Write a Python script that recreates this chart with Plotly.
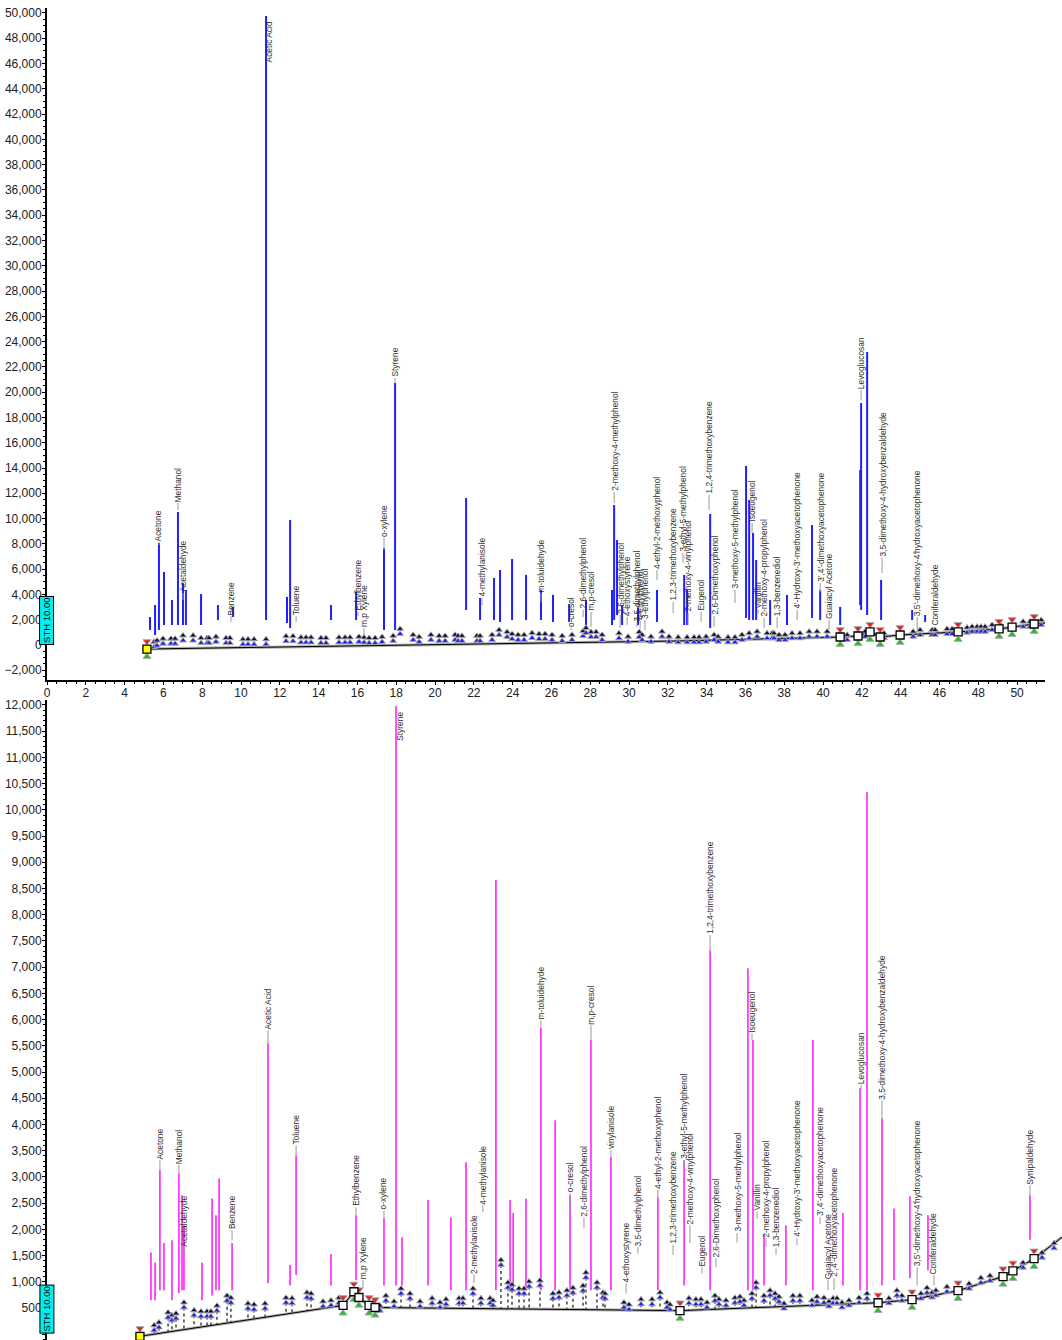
import numpy as np
import plotly.graph_objects as go

# ================= TOP PANEL (blue chromatogram) =================
top_peak_rt = [5.31, 5.57, 5.77, 6.03, 6.44, 6.75, 7.01, 7.16, 7.94, 8.81, 9.59, 11.29, 12.37, 12.53,
               14.64, 15.93, 17.37, 17.94, 21.60, 22.32, 23.04, 23.35, 23.97, 24.69, 25.46, 26.08,
               26.91, 27.78, 29.12, 29.23, 29.38, 29.64, 30.46, 31.44, 32.84, 32.99, 34.18, 36.03,
               36.19, 36.39, 36.55, 37.27, 38.14, 39.43, 39.85, 40.88, 41.91, 41.96, 42.27, 42.99,
               44.59, 45.26]
top_peak_apex = [2215, 3160, 8070, 5770, 3560, 10520, 4900, 4350, 4030, 3160, 3010, 49750, 3800, 9890,
                 3160, 4190, 7670, 20720, 11630, 3720, 5300, 5930, 6800, 5540, 4350, 3960,
                 3240, 3560, 4350, 11070, 8300, 3160, 2930, 4350, 5540, 4350, 10360, 14160,
                 11470, 8860, 6720, 3560, 3960, 9490, 4350, 3010, 13840, 19140, 23180, 5140,
                 2770, 2370]
top_peak_low = [1190, 790, 1190, 1580, 1580, 1580, 1580, 1580, 1580, 1980, 2210, 1980, 1740, 1340,
                1980, 1980, 1190, 1190, 2770, 1980, 1980, 1820, 1980, 1980, 1980, 1820,
                1820, 1580, 1580, 1980, 2370, 1580, 1580, 1820, 1580, 1580, 1340, 2140,
                1980, 1980, 1980, 1580, 1580, 2140, 1980, 1580, 3160, 2770, 2370, 1980,
                1980, 1820]

top_label_text = ["Acetone", "Methanol", "Acetaldehyde", "Benzene", "Acetic Acid", "Toluene",
                  "Ethylbenzene", "m,p Xylene", "o-xylene", "Styrene", "4-methylanisole",
                  "m-toluidehyde", "o-cresol", "2,6-dimethylphenol", "m,p-cresol",
                  "2-methoxy-4-methylphenol", "2,5-dimethylphenol", "4-ethoxystyrene",
                  "3,5-dimethylphenol", "4-ethylphenol", "3-ethylphenol", "4-ethyl-2-methoxyphenol",
                  "1,2,3-trimethoxybenzene", "3-ethyl-5-methylphenol", "2-methoxy-4-vinylphenol",
                  "Eugenol", "1,2,4-trimethoxybenzene", "2,6-Dimethoxyphenol",
                  "3-methoxy-5-methylphenol", "Isoeugenol", "Vanillin", "2-methoxy-4-propylphenol",
                  "1,3-benzenediol", "4'-Hydroxy-3'-methoxyacetophenone",
                  "3',4'-dimethoxyacetophenone", "Guaiacyl Acetone", "Levoglucosan",
                  "3,5-dimethoxy-4-hydroxybenzaldehyde", "3,5'-dimethoxy-4'hydroxyacetophenone",
                  "Coniferaldehyde"]
top_label_rt = [5.77, 6.75, 7.01, 9.48, 11.49, 12.84, 16.03, 16.34, 17.37, 17.94, 22.42,
                25.46, 27.01, 27.63, 28.04, 29.23, 29.54, 29.90, 30.41, 30.57, 30.82, 31.44,
                32.27, 32.78, 33.04, 33.71, 34.12, 34.38, 35.46, 36.34, 36.65, 36.96,
                37.63, 38.66, 39.85, 40.31, 41.96, 43.04, 44.85, 45.72]
top_label_y = [8150, 11230, 4110, 2290, 46040, 2290, 2610, 1340, 8460, 21120, 3720,
               4110, 1340, 2770, 2610, 12100, 2370, 2210, 1740, 1900, 1980, 5930,
               3400, 7280, 2530, 2610, 11860, 2290, 4350, 9650, 2770, 2140,
               2210, 2770, 4900, 1980, 20170, 6880, 2210, 1420]
top_leader_end = [7910, 10680, 3560, 1820, 46040, 1820, 2290, 790, 7510, 20720, 3160,
                  3400, 1190, 2210, 1420, 11230, 1340, 1580, 1420, 1300, 1190, 5140,
                  2530, 6490, 1580, 1820, 10680, 1420, 3320, 8860, 2500, 1340,
                  1340, 1980, 4190, 1190, 19380, 5700, 1030, 950]

top_base_rt = [5.15, 18.2, 32.6, 40.88, 41.80, 42.42, 42.94, 43.97, 46.96, 49.07, 49.74, 50.88, 51.44]
top_base_val = [-320, 0, 320, 630, 710, 1030, 630, 790, 1030, 1270, 1420, 1660, 1740]

top_marker_rt = [5.52, 5.67, 5.98, 6.39, 6.60, 7.01, 7.53, 7.94, 8.25, 8.35, 8.71, 9.23, 9.43, 10.10,
                 10.36, 10.67, 11.29, 12.32, 12.68, 13.09, 13.35, 13.61, 14.12, 14.38, 15.05, 15.36,
                 15.62, 16.08, 16.34, 16.60, 16.91, 17.27, 17.84, 18.20, 18.87, 19.18, 19.79, 20.21,
                 20.52, 21.03, 21.19, 21.39, 22.16, 22.32, 22.94, 23.30, 23.71, 23.97, 24.28, 24.59,
                 25.00, 25.36, 25.67, 26.03, 26.55, 27.06, 27.63, 27.78, 28.04, 28.30, 28.61, 29.48,
                 29.95, 30.52, 30.67, 31.13, 31.70, 32.06, 32.53, 32.99, 33.35, 33.61, 33.97, 34.38,
                 34.59, 35.10, 35.46, 35.82, 36.19, 36.60, 37.11, 37.37, 37.47, 37.73, 38.04, 38.40,
                 38.81, 39.28, 39.69, 40.21, 40.88, 41.24, 41.80, 42.16, 43.14, 44.64, 45.00, 45.62,
                 45.77, 46.39, 46.65, 47.42, 47.68, 47.94, 48.14, 48.35, 48.71, 49.12, 50.31, 50.67,
                 51.24]
top_marker_val = [-150, -50, 100, 100, 100, 350, 350, 150, 150, 150, 250, 150, 150, 50,
                  50, 50, 50, 300, 300, 200, 200, 200, 150, 150, 200, 200,
                  200, 250, 200, 150, 150, 240, 320, 870, 400, 240, 400, 320,
                  320, 400, 320, 320, 320, 320, 400, 790, 630, 470, 400, 400,
                  550, 470, 470, 400, 320, 400, 710, 950, 630, 630, 400, 530,
                  260, 630, 400, 260, 660, 260, 210, 210, 210, 210, 260, 400,
                  260, 210, 210, 400, 530, 660, 530, 530, 530, 400, 400, 530,
                  530, 660, 660, 660, 530, 400, 530, 660, 530, 660, 790, 790,
                  790, 870, 870, 975, 1050, 1050, 1050, 1050, 1190, 1240, 1450, 1450,
                  1580]

top_square_rt = [5.15, 40.88, 41.80, 42.42, 42.94, 43.97, 46.96, 49.07, 49.74, 50.88]
top_square_val = [-320, 630, 710, 1030, 630, 790, 1030, 1270, 1420, 1660]

# ================= BOTTOM PANEL (magenta chromatogram) =================
bot_peak_rt = [5.36, 5.57, 5.82, 6.03, 6.44, 6.80, 6.96, 7.06, 7.99, 8.51, 8.71, 8.87, 9.54, 11.39,
               12.53, 12.84, 14.64, 15.93, 17.37, 17.99, 18.30, 19.64, 20.82, 21.60, 23.14, 23.87,
               24.03, 24.69, 25.46, 26.19, 26.96, 28.04, 29.07, 31.49, 32.84, 34.18, 36.13, 36.39,
               36.96, 38.09, 39.48, 41.03, 41.91, 42.27, 43.04, 43.66, 44.48, 45.41, 50.67]
bot_peak_apex = [1560, 1370, 3130, 1740, 1790, 3070, 2650, 2080, 1370, 2590, 2270, 2970, 1740, 5550,
                 1320, 3410, 1530, 2270, 2210, 11980, 1850, 2560, 2230, 3280, 8660, 2560,
                 2310, 2590, 5840, 4080, 2650, 5610, 3380, 2610, 3320, 7320, 6980, 5610,
                 1890, 2080, 5610, 2310, 4690, 10340, 4120, 2400, 2630, 2270, 2650]
bot_peak_low = [650, 650, 840, 840, 650, 780, 840, 840, 650, 740, 840, 840, 840, 970,
                930, 1130, 930, 1030, 930, 930, 930, 930, 840, 840, 840, 840,
                840, 840, 840, 840, 840, 840, 840, 840, 930, 840, 840, 840,
                930, 930, 840, 930, 840, 840, 930, 1030, 1070, 1220, 1800]

bot_label_text = ["Acetone", "Methanol", "Acetaldehyde", "Benzene", "Acetic Acid", "Toluene",
                  "Ethylbenzene", "m,p Xylene", "o-xylene", "Styrene", "2-methylanisole",
                  "4-methylanisole", "m-toluidehyde", "o-cresol", "2,6-dimethylphenol",
                  "m,p-cresol", "vinylanisole", "4-ethoxystyrene", "3,5-dimethylphenol",
                  "4-ethyl-2-methoxyphenol", "1,2,3-trimethoxybenzene", "3-ethyl-5-methylphenol",
                  "2-methoxy-4-vinylphenol", "Eugenol", "1,2,4-trimethoxybenzene",
                  "2,6-Dimethoxyphenol", "3-methoxy-5-methylphenol", "Isoeugenol", "Vanillin",
                  "2-methoxy-4-propylphenol", "1,3-benzenediol",
                  "4'-Hydroxy-3'-methoxyacetophenone", "3',4'-dimethoxyacetophenone",
                  "Guaiacyl Acetone", "2',4'-dimethoxyacetophenone", "Levoglucosan",
                  "3,5-dimethoxy-4-hydroxybenzaldehyde", "3,5'-dimethoxy-4'hydroxyacetophenone",
                  "Coniferaldehyde", "Synipaldehyde"]
bot_label_rt = [5.82, 6.80, 7.06, 9.54, 11.39, 12.84, 15.93, 16.29, 17.37, 18.20, 22.01,
                22.47, 25.46, 26.96, 27.68, 28.04, 29.07, 29.85, 30.46, 31.49, 32.27, 32.84,
                33.14, 33.76, 34.18, 34.48, 35.57, 36.34, 36.60, 37.06, 37.58, 38.66, 39.85,
                40.26, 40.57, 41.96, 43.04, 44.85, 45.72, 50.67]
bot_label_y = [3320, 3230, 1660, 1980, 5800, 3600, 2420, 1030, 2360, 11290, 1140,
               2460, 5990, 2690, 2230, 5890, 3510, 970, 1660, 2750, 1700, 3320,
               2080, 1280, 7610, 1450, 1930, 5740, 2330, 1830, 1640, 1830, 2230,
               1030, 1070, 4750, 4460, 1280, 1130, 2840]
bot_leader_end = [3130, 3070, 1510, 1790, 5550, 3410, 2270, 880, 2210, 11290, 970,
                  2330, 5840, 2360, 2020, 5610, 3380, 780, 1540, 2610, 1510, 3200,
                  1740, 1160, 7320, 1280, 1750, 5610, 2200, 1660, 1510, 1700, 2100,
                  840, 840, 4650, 4120, 930, 930, 2650]

bot_base_rt = [4.79, 15.26, 15.82, 16.08, 16.60, 16.91, 32.63, 42.84, 44.59, 46.96, 49.28, 49.79, 50.88, 52.32]
bot_base_val = [-40, 550, 810, 700, 550, 510, 450, 600, 660, 830, 1100, 1210, 1440, 1850]

bot_marker_rt = [5.52, 5.77, 6.24, 6.44, 6.65, 7.06, 7.58, 7.94, 8.25, 8.45, 8.76, 9.28, 9.48, 10.36,
                 10.67, 11.24, 12.32, 12.63, 13.40, 13.61, 14.23, 14.64, 15.05, 17.16, 17.47, 17.89,
                 18.25, 18.71, 19.23, 19.85, 20.26, 20.57, 21.24, 21.44, 21.96, 22.37, 22.84, 22.99,
                 23.40, 23.76, 23.97, 24.33, 24.59, 24.85, 25.41, 26.08, 26.39, 26.80, 27.11, 27.63,
                 27.78, 28.35, 28.66, 28.76, 29.74, 30.00, 30.62, 31.19, 31.60, 31.96, 32.11, 33.09,
                 33.45, 33.71, 34.02, 34.43, 34.64, 35.00, 35.46, 35.72, 35.93, 36.34, 36.55, 36.96,
                 37.27, 37.53, 37.73, 37.99, 38.45, 38.81, 39.43, 39.69, 40.05, 40.31, 40.52, 40.72,
                 40.98, 41.34, 41.86, 42.27, 43.40, 43.81, 44.07, 45.05, 45.36, 45.62, 45.82, 46.39,
                 47.53, 48.14, 48.61, 50.31, 51.29, 51.91]
bot_marker_val = [75, 130, 320, 265, 300, 510, 360, 340, 340, 340, 450, 640, 600, 490,
                  470, 490, 600, 590, 700, 680, 530, 550, 600, 450, 640, 530,
                  775, 680, 530, 590, 510, 570, 590, 590, 775, 590, 590, 550,
                  1320, 890, 850, 775, 775, 910, 930, 680, 700, 740, 790, 830,
                  1080, 890, 700, 680, 510, 470, 570, 570, 700, 510, 470, 590,
                  570, 570, 510, 640, 570, 550, 600, 620, 550, 680, 890, 640,
                  740, 680, 620, 490, 640, 640, 550, 620, 600, 530, 590, 590,
                  510, 550, 600, 680, 590, 740, 640, 680, 790, 700, 740, 810,
                  870, 980, 1020, 1270, 1460, 1640]

bot_square_rt = [4.79, 15.26, 15.82, 16.08, 16.60, 16.91, 32.63, 42.84, 44.59, 46.96, 49.28, 49.79, 50.88]
bot_square_val = [-40, 550, 810, 700, 550, 510, 450, 600, 660, 830, 1100, 1210, 1440]

# ================= styling constants =================
BLUE = "#1f1fff"
MAGENTA = "#ff22ff"
LABEL_FONT = dict(family="Liberation Sans, Arial, sans-serif", size=8.4, color="#303030")
TICK_FONT = dict(family="Liberation Sans, Arial, sans-serif", size=12, color="#222222")


def segments(xs, y0s, y1s):
    X, Y = [], []
    for x, a, b in zip(xs, y0s, y1s):
        X += [x, x, None]
        Y += [a, b, None]
    return X, Y


fig = go.Figure()


def add_panel(xa, ya, prt, papex, plow, color, pwidth, lab_t, lab_rt, lab_y, lab_end,
              brt, bval, mrt, mval, srt, sval, arrow_off, flag_off, stems):
    # dotted stems below markers down to the baseline
    if stems:
        bl = np.interp(mrt, brt, bval)
        sx, sy = segments(mrt, mval, bl)
        fig.add_trace(go.Scatter(x=sx, y=sy, mode="lines", xaxis=xa, yaxis=ya,
                                 line=dict(color="#111111", width=1.2, dash="dot"),
                                 hoverinfo="skip", showlegend=False))
    # baseline (with grey shadow)
    fig.add_trace(go.Scatter(x=brt, y=bval, mode="lines", xaxis=xa, yaxis=ya,
                             line=dict(color="rgba(120,120,120,0.6)", width=3),
                             hoverinfo="skip", showlegend=False))
    fig.add_trace(go.Scatter(x=brt, y=bval, mode="lines", xaxis=xa, yaxis=ya,
                             line=dict(color="black", width=1),
                             hoverinfo="skip", showlegend=False))
    # peaks
    px_, py_ = segments(prt, plow, papex)
    fig.add_trace(go.Scatter(x=px_, y=py_, mode="lines", xaxis=xa, yaxis=ya,
                             line=dict(color=color, width=pwidth),
                             hoverinfo="skip", showlegend=False))
    # leader lines
    lx, ly = segments(lab_rt, lab_y, lab_end)
    fig.add_trace(go.Scatter(x=lx, y=ly, mode="lines", xaxis=xa, yaxis=ya,
                             line=dict(color="#9a9a9a", width=1),
                             hoverinfo="skip", showlegend=False))
    # peak start/end markers
    fig.add_trace(go.Scatter(x=mrt, y=[v + arrow_off for v in mval], mode="markers",
                             xaxis=xa, yaxis=ya,
                             marker=dict(symbol="triangle-up", size=6, color="#10103a",
                                         line=dict(color="#aaaaaa", width=1)),
                             hoverinfo="skip", showlegend=False))
    fig.add_trace(go.Scatter(x=mrt, y=mval, mode="markers", xaxis=xa, yaxis=ya,
                             marker=dict(symbol="triangle-up", size=6, color="#2020ee",
                                         line=dict(color="#aaaaaa", width=1)),
                             hoverinfo="skip", showlegend=False))
    # red / green flags and squares
    fig.add_trace(go.Scatter(x=srt, y=[v + flag_off for v in sval], mode="markers",
                             xaxis=xa, yaxis=ya,
                             marker=dict(symbol="triangle-down", size=7, color="#e02020",
                                         line=dict(color="#aaaaaa", width=1)),
                             hoverinfo="skip", showlegend=False))
    fig.add_trace(go.Scatter(x=srt, y=[v - flag_off for v in sval], mode="markers",
                             xaxis=xa, yaxis=ya,
                             marker=dict(symbol="triangle-up", size=7, color="#20c020",
                                         line=dict(color="#aaaaaa", width=1)),
                             hoverinfo="skip", showlegend=False))
    fig.add_trace(go.Scatter(x=srt, y=sval, mode="markers", xaxis=xa, yaxis=ya,
                             marker=dict(symbol="square", size=8,
                                         color=["#ffff00"] + ["white"] * (len(srt) - 1),
                                         line=dict(color="black", width=1.3)),
                             hoverinfo="skip", showlegend=False))
    # peak name labels
    xr = "x" if xa == "x" else "x2"
    yr = "y" if ya == "y" else "y2"
    for t, x, y in zip(lab_t, lab_rt, lab_y):
        fig.add_annotation(x=x, y=y, xref=xr, yref=yr, text=t, showarrow=False,
                           textangle=-90, xanchor="center", yanchor="bottom",
                           font=LABEL_FONT, borderpad=0)


add_panel("x", "y", top_peak_rt, top_peak_apex, top_peak_low, BLUE, 2,
          top_label_text, top_label_rt, top_label_y, top_leader_end,
          top_base_rt, top_base_val, top_marker_rt, top_marker_val,
          top_square_rt, top_square_val, arrow_off=400, flag_off=600, stems=False)
add_panel("x2", "y2", bot_peak_rt, bot_peak_apex, bot_peak_low, MAGENTA, 1.6,
          bot_label_text, bot_label_rt, bot_label_y, bot_leader_end,
          bot_base_rt, bot_base_val, bot_marker_rt, bot_marker_val,
          bot_square_rt, bot_square_val, arrow_off=95, flag_off=150, stems=True)

# STH labels on the y axes
for yr, yv in (("y", 1900), ("y2", 470)):
    fig.add_annotation(x=0, xref="paper", y=yv, yref=yr, text="STH 10.00", showarrow=False,
                       textangle=-90, xanchor="center", yanchor="middle",
                       bgcolor="#00f0f0", bordercolor="black", borderwidth=1, borderpad=1,
                       font=dict(family="Liberation Sans, Arial, sans-serif", size=9.5, color="black"))

axis_common = dict(showgrid=False, zeroline=False, showline=True, linecolor="black",
                   linewidth=2, ticks="outside", ticklen=3, tickwidth=1, tickcolor="black",
                   tickfont=TICK_FONT, automargin=False, ticklabelstandoff=-2)

fig.update_layout(
    width=1062, height=1340,
    margin=dict(l=47, r=0, t=0, b=0, autoexpand=False),
    paper_bgcolor="white", plot_bgcolor="white",
    showlegend=False,
    xaxis=dict(domain=[0, 0.9833], range=[0, 51.44], anchor="y", dtick=2, tick0=0,
               minor=dict(dtick=0.5, ticks="outside", ticklen=2, tickcolor="black"),
               **axis_common),
    yaxis=dict(domain=[0.49254, 0.99403], range=[-2770, 50390], anchor="x", dtick=2000,
               tickformat=",d",
               minor=dict(dtick=500, ticks="outside", ticklen=2, tickcolor="black"),
               **axis_common),
    xaxis2=dict(domain=[0, 1], range=[0, 52.32], anchor="y2", showgrid=False, zeroline=False,
                showline=False, showticklabels=False, ticks="", automargin=False),
    yaxis2=dict(domain=[0, 0.47761], range=[-110, 12095], anchor="x2", dtick=500,
                tickformat=",d",
                minor=dict(dtick=100, ticks="outside", ticklen=2, tickcolor="black"),
                **axis_common),
)

# remove the default 8px page margin so the figure starts at the window's corner
fig.write_html("out.html", config={"displayModeBar": False},
               post_script="document.body.style.margin='0';")
